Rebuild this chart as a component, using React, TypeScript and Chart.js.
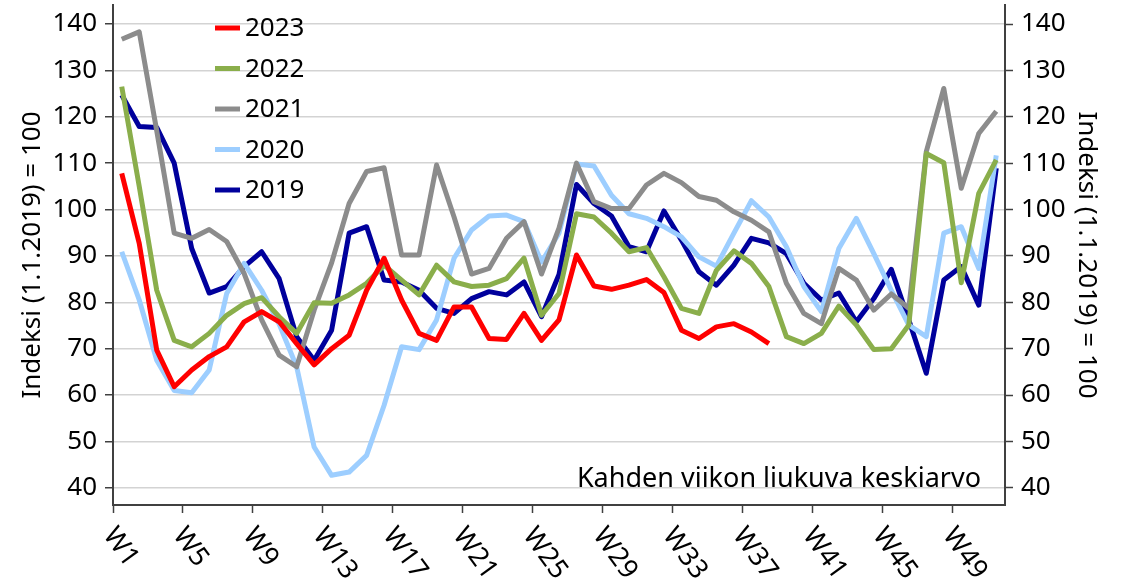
import { useEffect, useRef } from 'react';
import { Chart, registerables } from 'chart.js';

Chart.register(...registerables);

const weeks = [
  'W1', 'W2', 'W3', 'W4', 'W5', 'W6', 'W7', 'W8', 'W9', 'W10',
  'W11', 'W12', 'W13', 'W14', 'W15', 'W16', 'W17', 'W18', 'W19', 'W20',
  'W21', 'W22', 'W23', 'W24', 'W25', 'W26', 'W27', 'W28', 'W29', 'W30',
  'W31', 'W32', 'W33', 'W34', 'W35', 'W36', 'W37', 'W38', 'W39', 'W40',
  'W41', 'W42', 'W43', 'W44', 'W45', 'W46', 'W47', 'W48', 'W49', 'W50', 'W51',
];
const shownWeekLabels = ['W1', 'W5', 'W9', 'W13', 'W17', 'W21', 'W25', 'W29', 'W33', 'W37', 'W41', 'W45', 'W49'];
const yTickValues = [40, 50, 60, 70, 80, 90, 100, 110, 120, 130, 140];
const Y_MIN = 36.3;
const Y_MAX = 144.1;

const seriesNames = ['2023', '2022', '2021', '2020', '2019'];

const values2023 = [
  107.8, 92.7, 69.7, 61.8, 65.4, 68.3, 70.4, 75.8, 78.0, 75.8,
  71.1, 66.5, 70.0, 72.9, 82.6, 89.5, 80.5, 73.3, 71.8, 79.0,
  79.0, 72.2, 72.0, 77.6, 71.8, 76.2, 90.2, 83.5, 82.8, 83.7,
  84.9, 82.1, 74.0, 72.2, 74.7, 75.4, 73.6, 71.1,
];
const values2022 = [
  126.5, 105.0, 82.6, 71.8, 70.4, 73.3, 77.2, 79.7, 81.0, 76.9,
  73.3, 79.9, 79.8, 81.6, 84.1, 88.0, 84.8, 81.6, 88.0, 84.4,
  83.4, 83.7, 85.1, 89.5, 77.2, 81.9, 99.1, 98.4, 94.9, 90.9,
  91.8, 85.5, 78.7, 77.6, 86.9, 91.1, 88.4, 83.4, 72.6, 71.1,
  73.3, 79.2, 75.1, 69.8, 70.0, 75.1, 112.1, 110.1, 84.2, 103.5, 110.7,
];
const values2021 = [
  136.7, 138.3, 117.0, 94.9, 93.8, 95.7, 93.1, 86.2, 76.2, 68.6,
  66.1, 78.3, 88.5, 101.3, 108.2, 109.0, 90.2, 90.2, 109.6, 98.4,
  86.1, 87.3, 93.8, 97.4, 86.1, 96.0, 110.0, 101.7, 100.2, 100.2,
  105.3, 107.8, 105.8, 102.8, 102.0, 99.5, 97.7, 95.2, 84.1, 77.6,
  75.4, 87.3, 84.8, 78.3, 81.8, 78.7, 112.5, 126.1, 104.6, 116.4, 121.2,
];
const values2020 = [
  90.9, 80.5, 67.5, 61.0, 60.5, 65.4, 81.9, 88.4, 82.6, 75.3,
  66.1, 48.8, 42.7, 43.4, 47.0, 57.8, 70.4, 69.8, 76.2, 89.5,
  95.6, 98.6, 98.8, 97.4, 88.7, 94.9, 109.8, 109.4, 103.1, 99.1,
  98.1, 96.3, 94.1, 89.8, 87.8, 94.9, 101.9, 98.4, 92.0, 83.4,
  78.0, 91.6, 98.1, 90.5, 82.6, 75.1, 72.6, 94.9, 96.3, 87.3, 111.7,
];
const values2019 = [
  124.7, 117.9, 117.7, 110.0, 91.6, 82.0, 83.4, 87.7, 90.9, 85.1,
  72.6, 67.5, 74.0, 94.9, 96.3, 84.8, 84.4, 82.6, 78.7, 77.6,
  80.8, 82.3, 81.6, 84.4, 76.9, 86.0, 105.4, 101.3, 98.6, 92.0,
  90.9, 99.7, 93.4, 86.6, 83.7, 88.0, 93.8, 92.8, 90.5, 84.1,
  80.5, 82.0, 75.8, 80.8, 87.1, 76.2, 64.7, 84.8, 87.7, 79.4, 108.9,
];

const seriesValues = [values2023, values2022, values2021, values2020, values2019];
const seriesColors = ['#FF0000', '#8AAE4B', '#8C8C8C', '#9DCEFF', '#00009C'];

const axisTitle = 'Indeksi (1.1.2019) = 100';
const noteText = 'Kahden viikon liukuva keskiarvo';

const FONT = '"Noto Sans", sans-serif';
const FS = 26;
const AXIS = '#404040';
const GRID = '#D3D3D3';

const overlay = {
  id: 'overlay',
  afterDraw(chart: any) {
    const ctx: CanvasRenderingContext2D = chart.ctx;
    const area = chart.chartArea;
    const xs = chart.scales.x;
    ctx.save();
    ctx.fillStyle = '#000';

    // rotated x labels
    ctx.font = `27px ${FONT}`;
    const step = (area.right - area.left) / weeks.length;
    const th = (54 * Math.PI) / 180;
    const capH = 0.714 * 27;
    for (const lab of shownWeekLabels) {
      const idx = weeks.indexOf(lab);
      const tickX = xs.getPixelForValue(idx) - step / 2;
      const ox = tickX + 5 - capH * Math.sin(th);
      const oy = area.bottom + 19 + capH * Math.cos(th);
      ctx.save();
      ctx.translate(ox, oy);
      ctx.rotate(th);
      ctx.textAlign = 'left';
      ctx.textBaseline = 'alphabetic';
      ctx.fillText(lab, 0, 0);
      ctx.restore();
    }

    // axis titles
    ctx.font = `${FS}px ${FONT}`;
    const midY = (area.top + area.bottom) / 2;
    ctx.textAlign = 'center';
    ctx.textBaseline = 'middle';
    ctx.save();
    ctx.translate(33, midY);
    ctx.rotate(-Math.PI / 2);
    ctx.fillText(axisTitle, 0, 0);
    ctx.restore();
    ctx.save();
    ctx.translate(1086, midY);
    ctx.rotate(Math.PI / 2);
    ctx.fillText(axisTitle, 0, 0);
    ctx.restore();

    // legend
    ctx.textAlign = 'left';
    ctx.textBaseline = 'middle';
    seriesNames.forEach((name, i) => {
      const y = 28 + i * 40.5;
      ctx.strokeStyle = seriesColors[i];
      ctx.lineWidth = 5;
      ctx.beginPath();
      ctx.moveTo(215, y);
      ctx.lineTo(240, y);
      ctx.stroke();
      ctx.fillText(name, 245, y + 1);
    });

    // note
    ctx.font = `27px ${FONT}`;
    ctx.textAlign = 'right';
    ctx.textBaseline = 'alphabetic';
    ctx.fillText(noteText, 981, 487);
    ctx.restore();
  },
};

export default function App() {
  const ref = useRef<HTMLCanvasElement>(null);
  useEffect(() => {
    document.body.style.margin = '0';
    Chart.defaults.font.family = FONT;
    const canvas = ref.current!;
    const chart = new Chart(canvas, {
      type: 'line',
      data: {
        labels: weeks,
        datasets: seriesNames.map((name, i) => ({
          label: name,
          data: seriesValues[i],
          borderColor: seriesColors[i],
          backgroundColor: seriesColors[i],
          borderWidth: 5,
          pointRadius: 0,
          tension: 0,
          fill: false,
          borderJoinStyle: 'round' as const,
          yAxisID: 'y',
        })),
      },
      options: {
        responsive: false,
        animation: false,
        devicePixelRatio: 1,
        layout: { padding: { top: 5, left: 0, right: 0, bottom: 0 } },
        plugins: { legend: { display: false }, tooltip: { enabled: false } },
        scales: {
          x: {
            type: 'category',
            offset: true,
            grid: {
              offset: true,
              drawOnChartArea: false,
              drawTicks: true,
              tickLength: 8,
              tickWidth: 1.5,
              tickColor: (c: any) => (c.index % 4 === 0 ? AXIS : 'rgba(0,0,0,0)'),
            },
            border: { display: true, color: AXIS, width: 2 },
            ticks: { display: false, autoSkip: false },
            afterFit: (s: any) => {
              s.height = 78;
              s.paddingLeft = 0;
              s.paddingRight = 0;
            },
          },
          y: {
            position: 'left',
            min: Y_MIN,
            max: Y_MAX,
            afterBuildTicks: (s: any) => {
              s.ticks = yTickValues.map((v) => ({ value: v }));
            },
            ticks: { font: { size: FS, family: FONT }, color: '#000', padding: 8 },
            grid: { color: GRID, lineWidth: 1.5, tickColor: AXIS, tickLength: 8, tickWidth: 1.5 },
            border: { display: true, color: AXIS, width: 2 },
            afterFit: (s: any) => {
              s.width = 113;
              s.paddingTop = 0;
              s.paddingBottom = 0;
            },
          },
          y2: {
            position: 'right',
            min: Y_MIN,
            max: Y_MAX,
            afterBuildTicks: (s: any) => {
              s.ticks = yTickValues.map((v) => ({ value: v }));
            },
            ticks: { font: { size: FS, family: FONT }, color: '#000', padding: 8 },
            grid: { drawOnChartArea: false, tickColor: AXIS, tickLength: 8, tickWidth: 1.5 },
            border: { display: true, color: AXIS, width: 2 },
            afterFit: (s: any) => {
              s.width = 123;
              s.paddingTop = 0;
              s.paddingBottom = 0;
            },
          },
        },
      },
      plugins: [overlay],
    });
    return () => chart.destroy();
  }, []);
  return <canvas ref={ref} width={1128} height={583} style={{ display: 'block' }} />;
}
